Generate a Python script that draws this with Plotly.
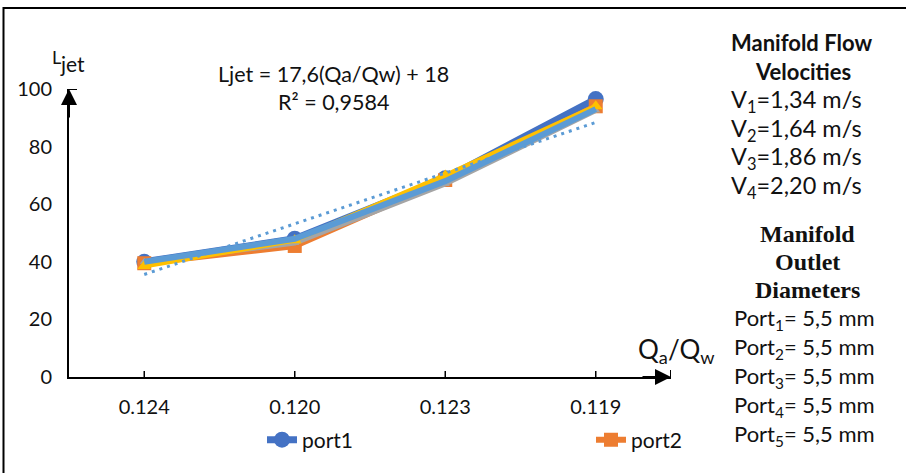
import plotly.graph_objects as go

# ---- data ----
categories = ["0.124", "0.120", "0.123", "0.119"]
port1 = [40, 48, 69, 96.5]
port2 = [39.5, 45.5, 68.4, 94]
port3 = [40, 46.5, 67, 92.5]
port4 = [38.5, 47.5, 70, 94]
port5 = [40, 48, 68, 93]
trend = [35.6, 53.2, 70.8, 88.4]
y_ticks = [0, 20, 40, 60, 80, 100]

velocity_lines = ["V<sub>1</sub>=1,34 m/s", "V<sub>2</sub>=1,64 m/s",
                  "V<sub>3</sub>=1,86 m/s", "V<sub>4</sub>=2,20 m/s"]
port_lines = ["Port<sub>%d</sub>= 5,5 mm" % i for i in range(1, 6)]

# ---- geometry ----
W, H = 906, 473
ML, MR, MT, MB = 69, 235, 89, 96
PW, PH = W - ML - MR, H - MT - MB


def px(x):
    return (x - ML) / PW


def py(y):
    return (H - MB - y) / PH


FONT = "Lato"
fig = go.Figure()

series = [
    ("port1", port1, "#4472C4", 7, dict(symbol="circle", size=16), True, "legend"),
    ("port2", port2, "#ED7D31", 6, dict(symbol="square", size=14), True, "legend2"),
    ("port3", port3, "#A5A5A5", 5, dict(symbol="triangle-up", size=8), False, "legend"),
    ("port4", port4, "#FFC000", 5, dict(symbol="triangle-up", size=12), False, "legend"),
    ("port5", port5, "#5B9BD5", 6, dict(size=1), False, "legend"),
]
for name, vals, col, lw, mk, show, lg in series:
    fig.add_trace(go.Scatter(
        x=categories, y=vals, name=name, mode="lines+markers",
        line=dict(color=col, width=lw),
        marker=dict(color=col, **mk),
        showlegend=show, legend=lg, cliponaxis=False))

fig.add_trace(go.Scatter(
    x=categories, y=trend, name="trend", mode="lines",
    line=dict(color="#5B9BD5", width=3, dash="3px,5px"),
    showlegend=False, cliponaxis=False))

leg_common = dict(orientation="h", y=py(440), xanchor="left", yanchor="middle",
                  font=dict(size=21, family=FONT), bgcolor="rgba(0,0,0,0)")
fig.update_layout(
    width=W, height=H,
    margin=dict(l=ML, r=MR, t=MT, b=MB, autoexpand=False),
    paper_bgcolor="white", plot_bgcolor="white",
    font=dict(family=FONT, size=20, color="#111"),
    xaxis=dict(type="category", range=[-0.5, 3.5], showgrid=False,
               showline=True, linecolor="black", linewidth=2, automargin=False,
               ticks="", ticklabelstandoff=11, zeroline=False,
               tickfont=dict(size=20)),
    yaxis=dict(range=[0, 100], tickvals=y_ticks, showgrid=False, automargin=False,
               showline=True, linecolor="black", linewidth=2,
               ticks="", ticklabelstandoff=11, zeroline=False,
               tickfont=dict(size=20)),
    legend=dict(x=px(262), **leg_common),
    legend2=dict(x=px(591), **leg_common),
)

shapes = []
# frame
shapes.append(dict(type="rect", xref="paper", yref="paper",
                   x0=px(3.5), x1=px(W + 10), y0=py(H + 10), y1=py(8),
                   line=dict(color="black", width=2), layer="below"))
# cross ticks on x axis
for i in range(len(categories)):
    shapes.append(dict(type="line", xref="x", yref="y", ysizemode="pixel",
                       yanchor=0, x0=i, x1=i, y0=-6, y1=6,
                       line=dict(color="black", width=1.5)))
# tick at y=0
shapes.append(dict(type="line", xref="x", yref="y", xsizemode="pixel",
                   xanchor=-0.5, x0=-7, x1=0, y0=0, y1=0,
                   line=dict(color="black", width=2)))
# end bars of axes
shapes.append(dict(type="line", xref="x", yref="y", xsizemode="pixel",
                   xanchor=-0.5, x0=-8, x1=8, y0=100, y1=100,
                   line=dict(color="black", width=2)))
shapes.append(dict(type="line", xref="x", yref="y", ysizemode="pixel",
                   yanchor=0, x0=3.5, x1=3.5, y0=-7, y1=7,
                   line=dict(color="black", width=2)))
fig.update_layout(shapes=shapes)

ann = []


def label(x, y, text, size, family=FONT):
    ann.append(dict(x=px(x), y=py(y), xref="paper", yref="paper", text=text,
                    showarrow=False, xanchor="center", yanchor="middle",
                    font=dict(size=size, family=family, color="#111")))


# axis arrows
ann.append(dict(x=-0.5, y=100, xref="x", yref="y", text="", showarrow=True,
                ax=0, ay=30, arrowhead=2, arrowsize=1.6, arrowwidth=2,
                arrowcolor="black", standoff=0))
ann.append(dict(x=3.5, y=0, xref="x", yref="y", text="", showarrow=True,
                ax=-30, ay=0, arrowhead=2, arrowsize=1.6, arrowwidth=2,
                arrowcolor="black", standoff=0))
# axis titles
label(56.5, 57, "L", 18)
label(72, 63, "jet", 21)
label(676, 350, "Q<sub>a</sub>/Q<sub>w</sub>", 26)
# trend equation
label(333, 74, "Ljet = 17,6(Qa/Qw) + 18", 21.5)
label(333, 102, "R² = 0,9584", 21.5)
# right panel
label(801, 42, "<b>Manifold Flow</b>", 22)
label(803, 71, "<b>Velocities</b>", 22)
for k, txt in enumerate(velocity_lines):
    label(796, 101 + 28.7 * k, txt, 23.5)
for txt, yy in [("Manifold", 234), ("Outlet", 262), ("Diameters", 290)]:
    label(807, yy, "<b>%s</b>" % txt, 24, "Liberation Serif")
for k, txt in enumerate(port_lines):
    label(804, 319 + 29 * k, txt, 22)
fig.update_layout(annotations=ann)

fig.write_html("out.html", config={"displayModeBar": False},
               post_script="document.body.style.margin='0';")
